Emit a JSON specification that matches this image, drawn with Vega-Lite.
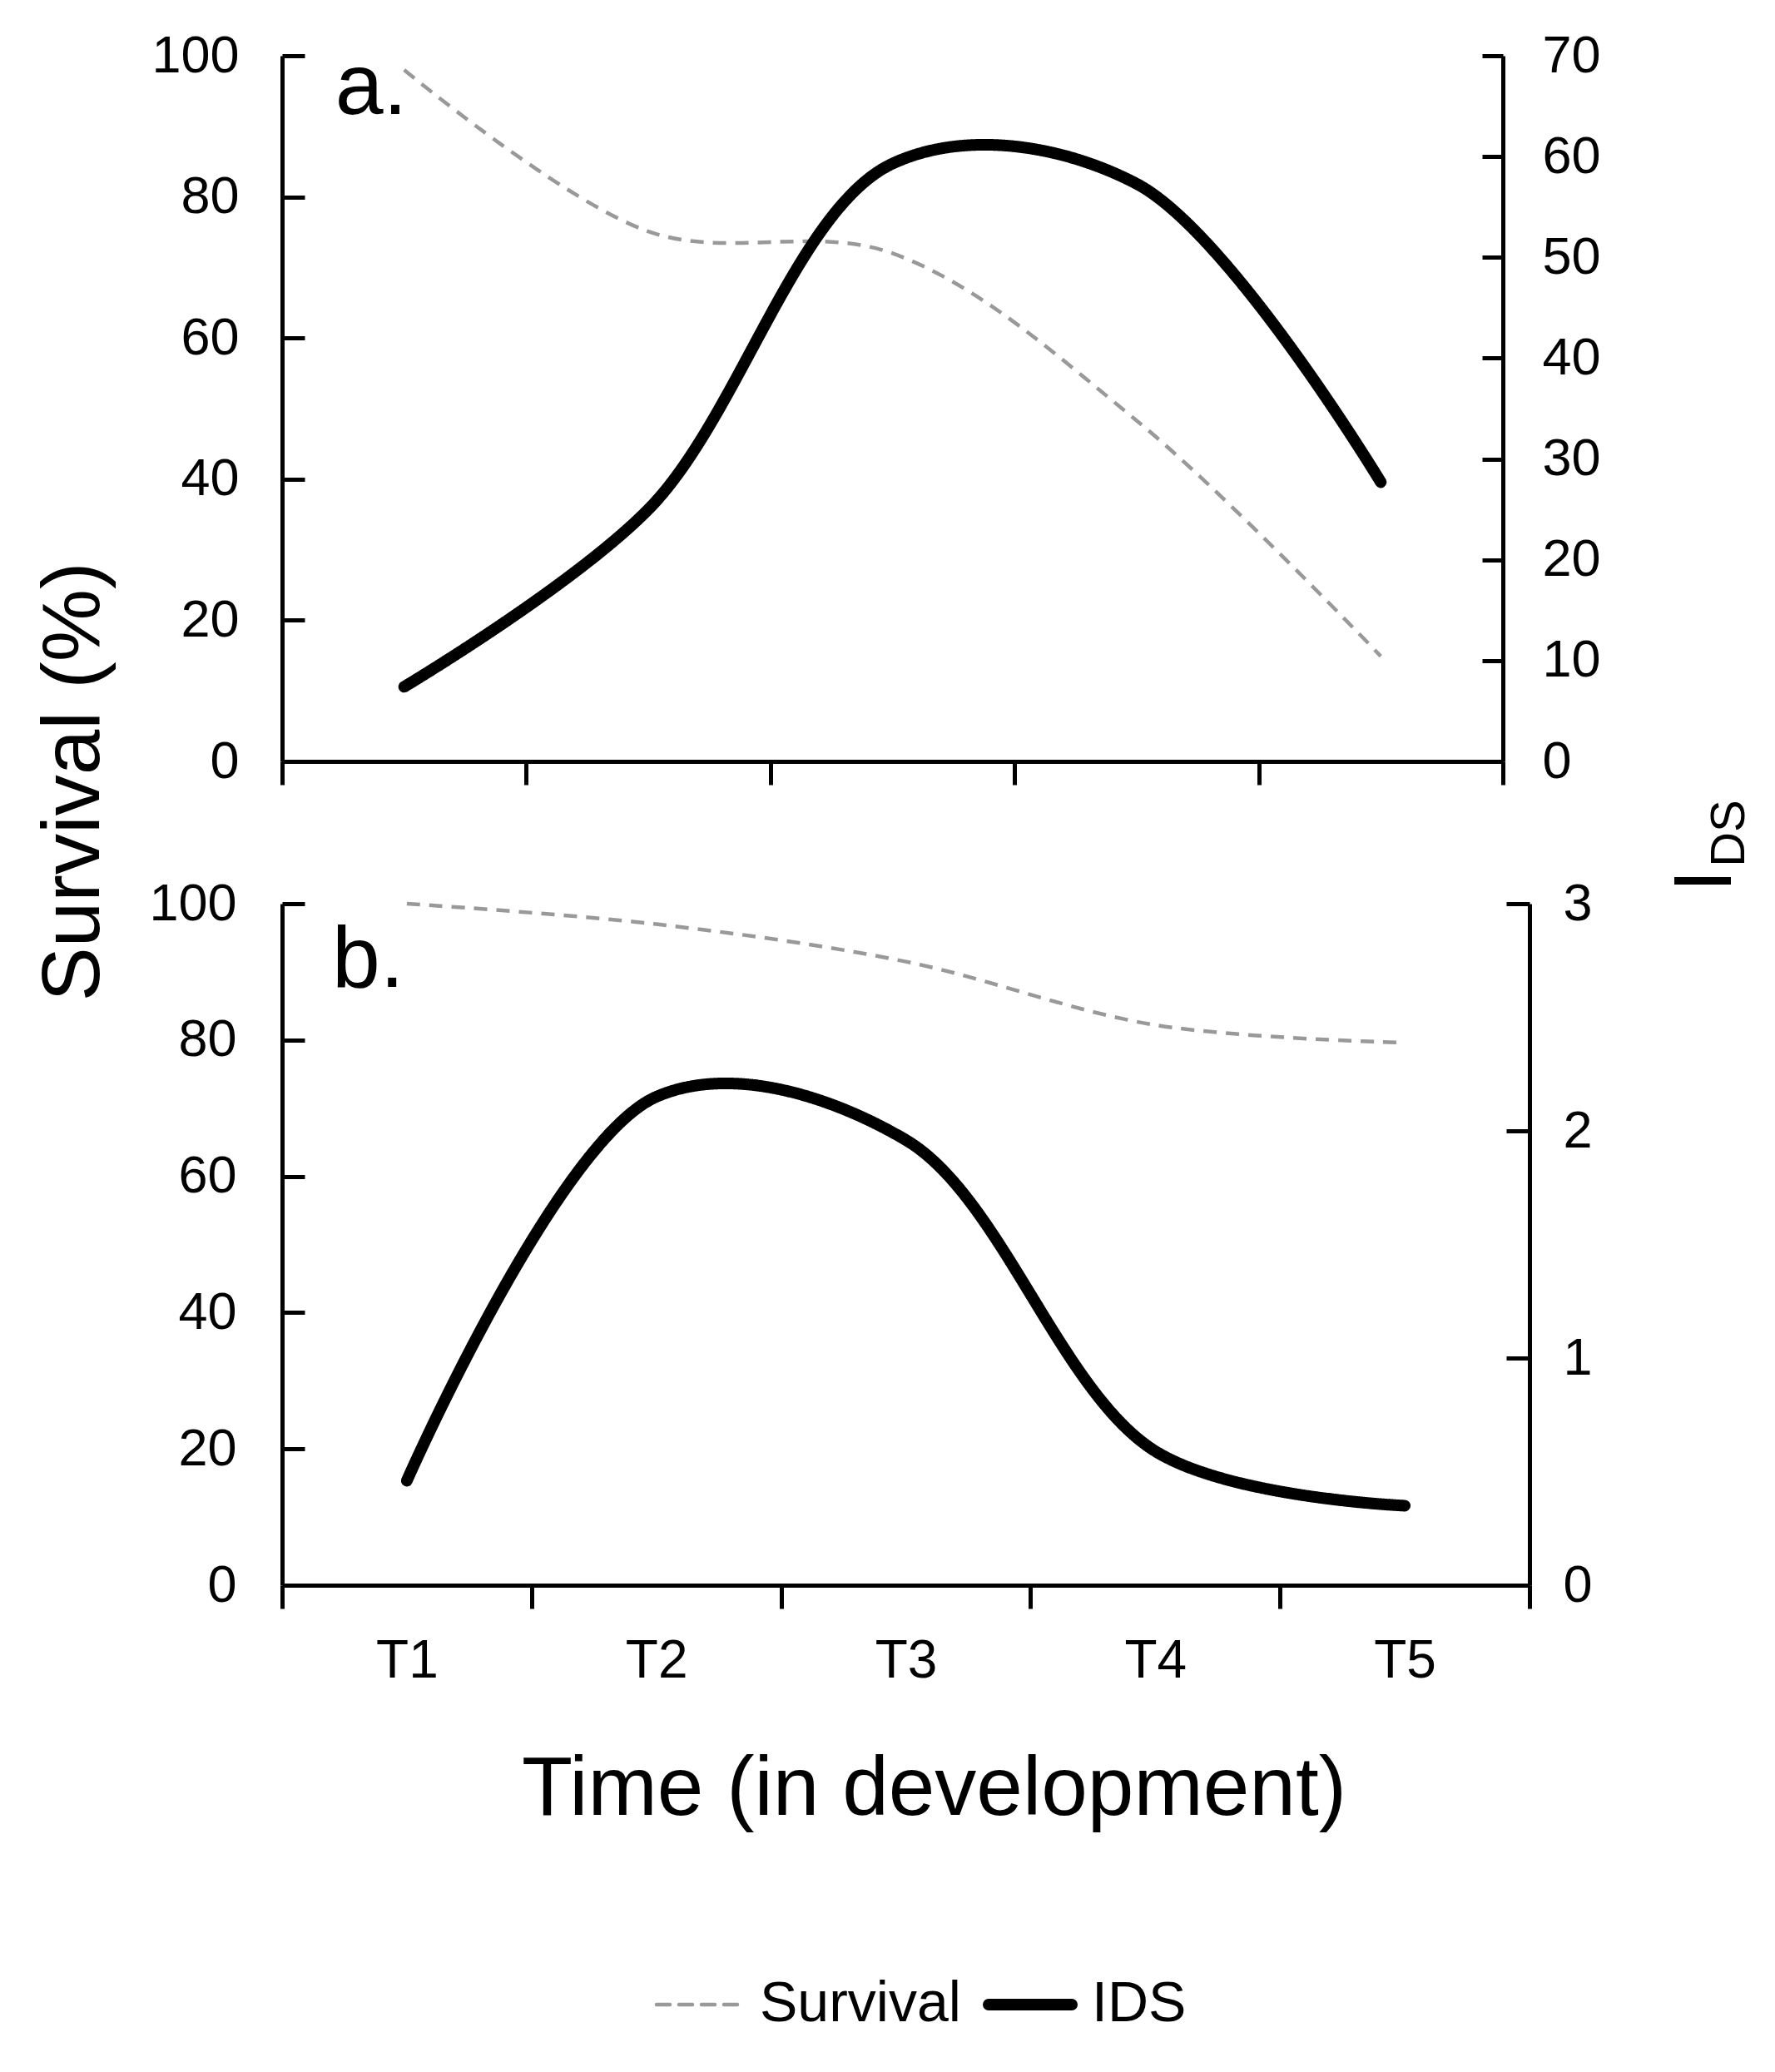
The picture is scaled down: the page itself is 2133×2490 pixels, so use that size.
{
  "$schema": "https://vega.github.io/schema/vega-lite/v6.json",
  "background": "white",
  "padding": {"left": 40, "top": 36, "right": 5, "bottom": 5},
  "config": {
    "font": "Liberation Sans",
    "view": {"stroke": null},
    "axis": {
      "domainColor": "black", "domainWidth": 5, "tickColor": "black", "tickWidth": 5,
      "labelColor": "black", "titleColor": "black", "labelFont": "Liberation Sans",
      "titleFont": "Liberation Sans", "grid": false, "titleFontWeight": "normal"
    }
  },
  "datasets": {
    "a": [
      {"time": "T1", "survival": 98.0, "ids": 7.4},
      {"time": "T2", "survival": 75.1, "ids": 25.0},
      {"time": "T3", "survival": 72.0, "ids": 59.3},
      {"time": "T4", "survival": 48.3, "ids": 57.3},
      {"time": "T5", "survival": 14.9, "ids": 27.7}
    ],
    "b": [
      {"time": "T1", "survival": 100.0, "ids": 0.46},
      {"time": "T2", "survival": 97.0, "ids": 2.15},
      {"time": "T3", "survival": 91.5, "ids": 1.96},
      {"time": "T4", "survival": 82.2, "ids": 0.59},
      {"time": "T5", "survival": 79.6, "ids": 0.35}
    ]
  },
  "spacing": 171,
  "bounds": "flush",
  "resolve": {
    "scale": {"color": "shared", "strokeDash": "shared"},
    "legend": {"color": "shared", "strokeDash": "shared"}
  },
  "vconcat": [
    {
      "width": 1467,
      "height": 848,
      "data": {"name": "a"},
      "encoding": {
        "x": {
          "field": "time", "type": "ordinal",
          "scale": {"type": "band", "paddingInner": 0, "paddingOuter": 0, "domain": ["T1", "T2", "T3", "T4", "T5"]},
          "axis": {"labels": false, "title": null, "tickBand": "extent", "tickSize": 28}
        }
      },
      "layer": [
        {
          "mark": {"type": "line", "interpolate": "catmull-rom", "strokeCap": "butt", "strokeWidth": 4.5},
          "encoding": {
            "y": {
              "field": "survival", "type": "quantitative",
              "scale": {"domain": [0, 100], "nice": false},
              "axis": {
                "orient": "left", "values": [0, 20, 40, 60, 80, 100], "tickSize": -27, "labelPadding": 79,
                "labelFontSize": 63, "title": "Survival (%)", "titleFontSize": 98, "titleAngle": -90,
                "titleX": -221, "titleY": 872, "titleAlign": "center", "titleBaseline": "alphabetic"
              }
            },
            "color": {
              "datum": "Survival",
              "scale": {"domain": ["Survival", "IDS"], "range": ["#999999", "#000000"]},
              "legend": {
                "title": null, "orient": "none", "legendX": 466, "legendY": 2308, "direction": "horizontal",
                "symbolType": "stroke", "symbolSize": 10000, "labelFontSize": 68, "labelFont": "Liberation Sans",
                "labelColor": "black", "labelOffset": 40, "columnPadding": 5, "padding": 0, "labelLimit": 0,
                "encode": {"symbols": {"update": {"strokeWidth": {"signal": "datum.value === 'IDS' ? 14 : 4.5"}, "strokeCap": {"value": "round"}}}}
              }
            },
            "strokeDash": {
              "datum": "Survival",
              "scale": {"domain": ["Survival", "IDS"], "range": [[16, 11], [1, 0]]}
            }
          }
        },
        {
          "mark": {"type": "line", "interpolate": "catmull-rom", "strokeCap": "round", "strokeWidth": 14},
          "encoding": {
            "y": {
              "field": "ids", "type": "quantitative",
              "scale": {"domain": [0, 70], "nice": false},
              "axis": {
                "orient": "right", "values": [0, 10, 20, 30, 40, 50, 60, 70], "tickSize": -25, "labelPadding": 72,
                "labelFontSize": 63, "title": "I", "titleFontSize": 99, "titleAngle": -90,
                "titleX": 273, "titleY": 991, "titleAlign": "center", "titleBaseline": "alphabetic"
              }
            },
            "color": {"datum": "IDS"},
            "strokeDash": {"datum": "IDS"}
          }
        },
        {
          "data": {"values": [{"label": "a."}]},
          "mark": {"type": "text", "align": "left", "baseline": "alphabetic", "dx": -83, "fontSize": 104, "font": "Liberation Sans", "color": "black"},
          "encoding": {
            "x": {"datum": "T1", "type": "ordinal"},
            "y": {"datum": 91.7, "type": "quantitative", "scale": {"domain": [0, 100], "nice": false}, "axis": null},
            "text": {"field": "label"}
          }
        }
      ],
      "resolve": {"scale": {"y": "independent"}, "axis": {"y": "independent"}}
    },
    {
      "width": 1499,
      "height": 819,
      "data": {"name": "b"},
      "encoding": {
        "x": {
          "field": "time", "type": "ordinal",
          "scale": {"type": "band", "paddingInner": 0, "paddingOuter": 0, "domain": ["T1", "T2", "T3", "T4", "T5"]},
          "axis": {
            "labelAngle": 0, "tickBand": "extent", "tickSize": 28, "labelPadding": 31, "labelFontSize": 64,
            "title": "Time (in development)", "titleFontSize": 100, "titleX": 783, "titleY": 275,
            "titleAlign": "center", "titleBaseline": "alphabetic"
          }
        }
      },
      "layer": [
        {
          "mark": {"type": "line", "interpolate": "catmull-rom", "strokeCap": "butt", "strokeWidth": 4.5},
          "encoding": {
            "y": {
              "field": "survival", "type": "quantitative",
              "scale": {"domain": [0, 100], "nice": false},
              "axis": {
                "orient": "left", "values": [0, 20, 40, 60, 80, 100], "tickSize": -27, "labelPadding": 82,
                "labelFontSize": 63, "title": null
              }
            },
            "color": {"datum": "Survival"},
            "strokeDash": {"datum": "Survival"}
          }
        },
        {
          "mark": {"type": "line", "interpolate": "catmull-rom", "strokeCap": "round", "strokeWidth": 14},
          "encoding": {
            "y": {
              "field": "ids", "type": "quantitative",
              "scale": {"domain": [0, 3], "nice": false},
              "axis": {
                "orient": "right", "values": [0, 1, 2, 3], "tickSize": -28, "labelPadding": 68,
                "labelFontSize": 63, "title": "DS", "titleFontSize": 58, "titleAngle": -90,
                "titleX": 257, "titleY": -85, "titleAlign": "center", "titleBaseline": "alphabetic"
              }
            },
            "color": {"datum": "IDS"},
            "strokeDash": {"datum": "IDS"}
          }
        },
        {
          "data": {"values": [{"label": "b."}]},
          "mark": {"type": "text", "align": "left", "baseline": "alphabetic", "dx": -90, "fontSize": 104, "font": "Liberation Sans", "color": "black"},
          "encoding": {
            "x": {"datum": "T1", "type": "ordinal"},
            "y": {"datum": 87.8, "type": "quantitative", "scale": {"domain": [0, 100], "nice": false}, "axis": null},
            "text": {"field": "label"}
          }
        }
      ],
      "resolve": {"scale": {"y": "independent"}, "axis": {"y": "independent"}}
    }
  ]
}
